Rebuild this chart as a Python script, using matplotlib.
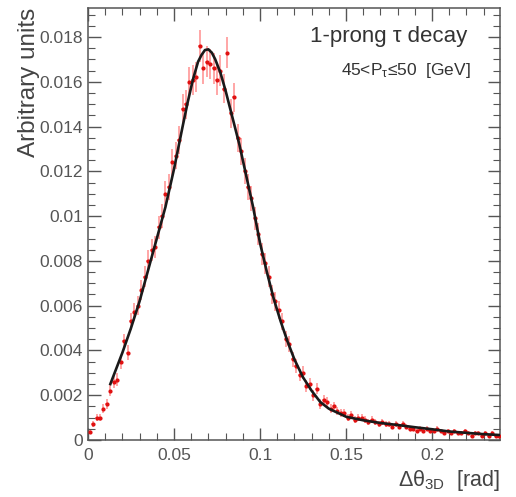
import numpy as np
import matplotlib
matplotlib.use('Agg')
import matplotlib.pyplot as plt
from matplotlib.ticker import MultipleLocator, AutoMinorLocator, FormatStrFormatter

# histogram bins: width 0.002 rad, centres 0.001 ... 0.239
bin_width = 0.002
bin_centers = np.arange(120) * bin_width + bin_width / 2

data_vals = [
    0.00035, 0.0007, 0.0010, 0.0010, 0.0014, 0.0016, 0.0022, 0.0026, 0.0027, 0.0035,
    0.0044, 0.0039, 0.0053, 0.0057, 0.0060, 0.0067, 0.0073, 0.0080, 0.0085, 0.0086,
    0.0095, 0.0100, 0.0110, 0.0113, 0.0124, 0.0127, 0.0134, 0.0148, 0.0150, 0.0160,
    0.0161, 0.0162, 0.0176, 0.0166, 0.0169, 0.0168, 0.0166, 0.0161, 0.0165, 0.0157,
    0.0173, 0.0146, 0.0153, 0.0135, 0.0129, 0.0120, 0.0113, 0.0108, 0.0099, 0.0092,
    0.0083, 0.0079, 0.0073, 0.0065, 0.0062, 0.0058, 0.0053, 0.0045, 0.0043, 0.0036,
    0.0033, 0.0029, 0.0030, 0.0024, 0.0025, 0.0020, 0.0023, 0.0016, 0.0018, 0.0017,
    0.0014, 0.0015, 0.0013, 0.0012, 0.0012, 0.0010, 0.0011, 0.0009, 0.0010, 0.0010,
    0.0009, 0.0008, 0.0009, 0.0008, 0.0007, 0.0008, 0.0007, 0.0007, 0.0006, 0.0007,
    0.0006, 0.0007, 0.0006, 0.0005, 0.0005, 0.0004, 0.0005, 0.0004, 0.0005, 0.0004,
    0.0004, 0.0005, 0.0004, 0.0003, 0.0004, 0.0003, 0.0004, 0.0003, 0.0003, 0.0004,
    0.0003, 0.0002, 0.0003, 0.0003, 0.0002, 0.0003, 0.0002, 0.0003, 0.0002, 0.0002,
]

# fitted function
fit_x = [0.013, 0.015, 0.020, 0.025, 0.030, 0.035, 0.040, 0.045, 0.050, 0.055,
         0.058, 0.061, 0.064, 0.066, 0.068, 0.070, 0.072, 0.074, 0.077, 0.080,
         0.084, 0.088, 0.092, 0.096, 0.100, 0.104, 0.108, 0.112, 0.116, 0.120,
         0.125, 0.130, 0.135, 0.140, 0.145, 0.150, 0.160, 0.170, 0.180, 0.190,
         0.200, 0.210, 0.220, 0.230, 0.240]
fit_y = [0.0025, 0.0029, 0.0039, 0.0050, 0.0062, 0.0076, 0.0090, 0.0104, 0.0121, 0.0140,
         0.0151, 0.0161, 0.0169, 0.0172, 0.01742, 0.01745, 0.0173, 0.0170, 0.0164, 0.0156,
         0.0144, 0.0132, 0.0118, 0.0104, 0.0088, 0.0075, 0.0063, 0.0053, 0.0044, 0.0036,
         0.0028, 0.0022, 0.0017, 0.0014, 0.00122, 0.00104, 0.00088, 0.00076, 0.00067, 0.00057,
         0.00048, 0.00038, 0.00032, 0.00026, 0.00022]

vals = np.array(data_vals)
# statistical (Poisson-like) uncertainty of each bin
yerr = 0.0053 * np.sqrt(vals)

plt.rcParams['font.family'] = ['Liberation Sans', 'DejaVu Sans']
plt.rcParams['mathtext.fontset'] = 'custom'
plt.rcParams['mathtext.rm'] = 'Liberation Sans'
plt.rcParams['mathtext.it'] = 'Liberation Sans'
grey = '#555555'

fig = plt.figure(figsize=(5.16, 4.97), dpi=100)
ax = fig.add_axes([0.1705, 0.1147, 0.7985, 0.8693])

ax.errorbar(bin_centers, vals, xerr=bin_width / 2, yerr=yerr, fmt='none',
            ecolor='#ff3a3a', elinewidth=1.4, alpha=0.45, zorder=2)
ax.plot(bin_centers, vals, 'o', color='#e01010', ms=2.0, zorder=3)
ax.plot(fit_x, fit_y, color='#1a1a1a', lw=1.9, zorder=4)

ax.set_xlim(0, 0.2395)
ax.set_ylim(0, 0.0193)

ax.xaxis.set_major_locator(MultipleLocator(0.05))
ax.xaxis.set_minor_locator(AutoMinorLocator(5))
ax.yaxis.set_major_locator(MultipleLocator(0.002))
ax.yaxis.set_minor_locator(AutoMinorLocator(4))
ax.xaxis.set_major_formatter(FormatStrFormatter('%g'))
ax.yaxis.set_major_formatter(FormatStrFormatter('%g'))

ax.tick_params(which='both', direction='in', top=True, right=True,
               color=grey, labelcolor=grey, labelsize=12.5)
ax.tick_params(which='major', length=9, width=1)
ax.tick_params(which='minor', length=5, width=0.8)
ax.tick_params(axis='x', pad=6)
for s in ax.spines.values():
    s.set_color(grey)
    s.set_linewidth(1.1)

ax.set_ylabel('Arbitrary units', fontsize=17.5, color='#444444', loc='top', labelpad=0)
ax.set_xlabel(r'$\mathregular{\Delta\theta_{3D}}$  [rad]', fontsize=15.5,
              color='#444444', loc='right')
ax.xaxis.set_label_coords(1.0, -0.065)

ax.text(0.92, 0.935, '1-prong τ decay', transform=ax.transAxes,
        ha='right', va='center', fontsize=16, color='#333333')
ax.text(0.93, 0.855, r'45<P$\mathregular{_\tau}$≤50  [GeV]', transform=ax.transAxes,
        ha='right', va='center', fontsize=12.5, color='#333333')

fig.savefig('out.png', dpi=100)
